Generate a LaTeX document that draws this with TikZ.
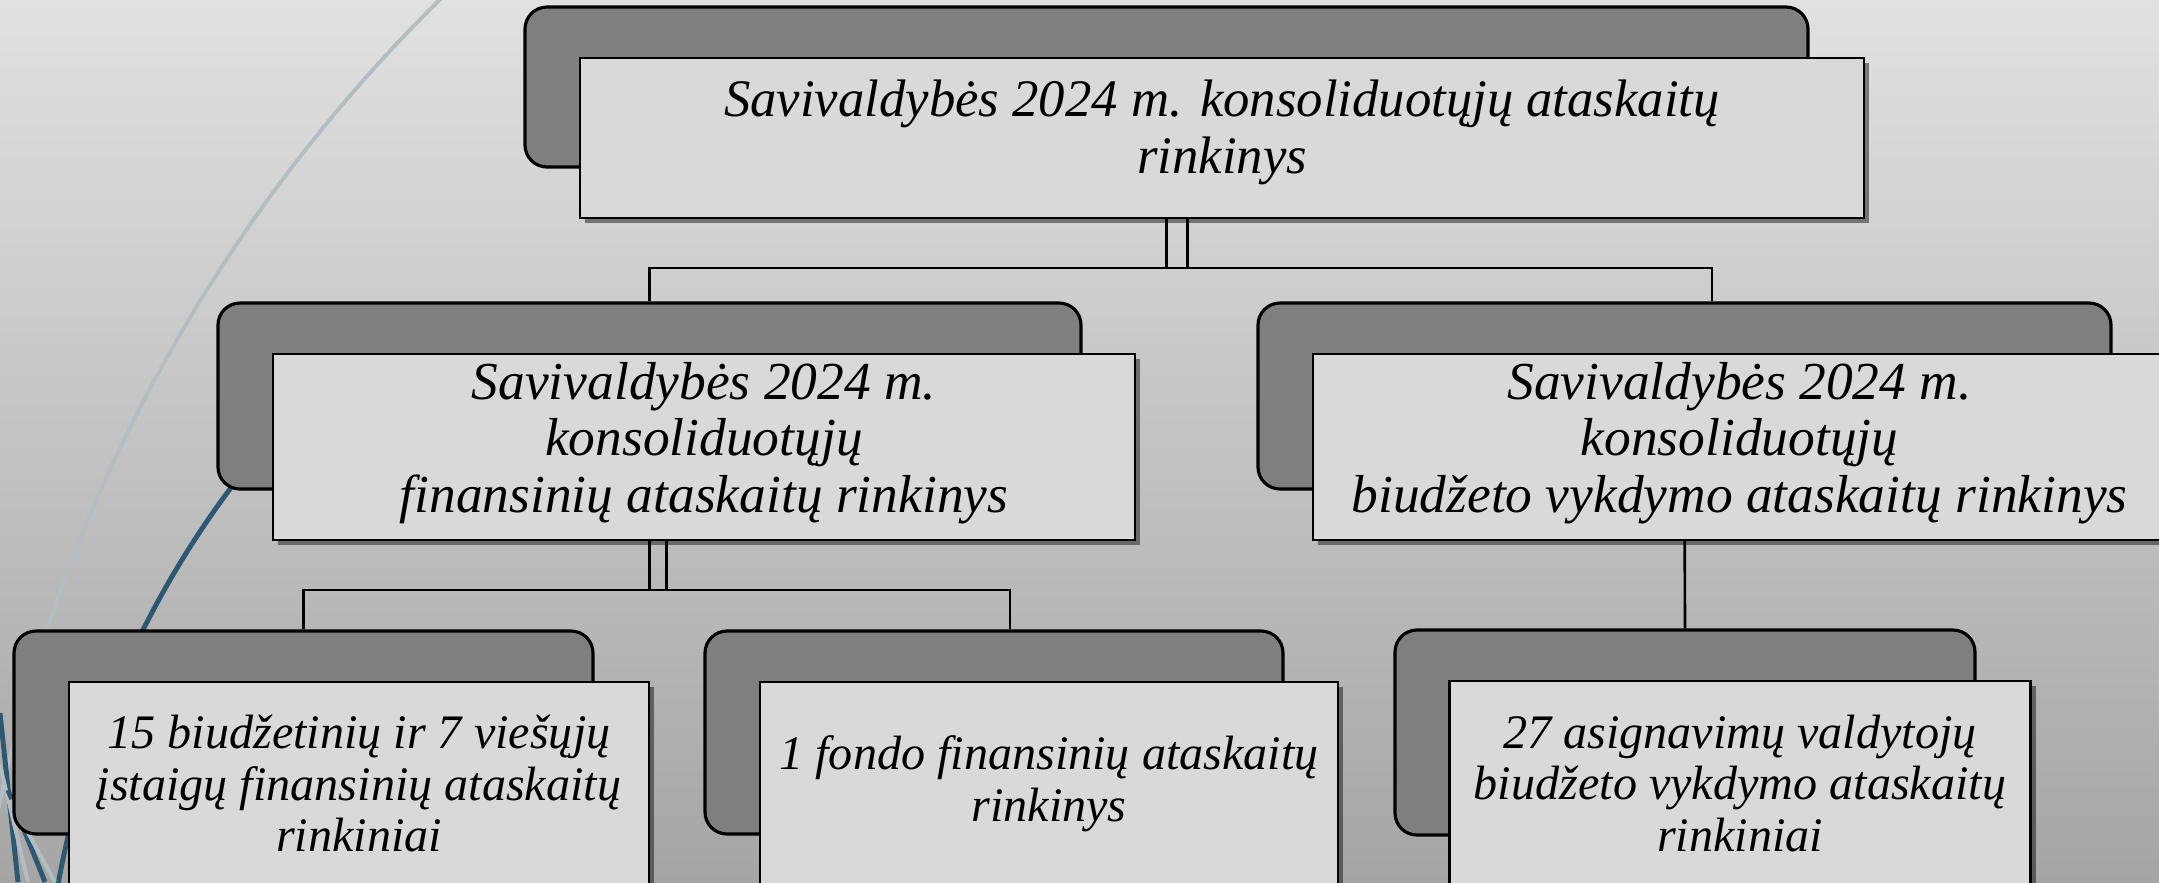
\documentclass[tikz,border=0pt]{standalone}
\usepackage{fontspec}
\setmainfont{Liberation Serif}
\usetikzlibrary{shadows}
\definecolor{bgtop}{HTML}{E1E1E1}
\definecolor{bgbot}{HTML}{A5A5A5}
\definecolor{backgray}{HTML}{7F7F7F}
\definecolor{frontgray}{HTML}{D9D9D9}
\definecolor{arcblue}{HTML}{2E5872}
\definecolor{arclight}{HTML}{B3BDC4}
\newcommand{\fsRoot}{\fontsize{15pt}{16.2pt}\selectfont\itshape}
\newcommand{\fsMid}{\fontsize{15.2pt}{16.1pt}\selectfont\itshape}
\newcommand{\fsLow}{\fontsize{13.7pt}{14.7pt}\selectfont\itshape}

\begin{document}
\begin{tikzpicture}[
  backbox/.style={draw=black, line width=0.9pt, fill=backgray, rounded corners=2.2mm, inner sep=0pt},
  frontbox/.style={draw=black, line width=0.8pt, fill=frontgray, inner sep=0pt,
    drop shadow={shadow xshift=0.5mm, shadow yshift=-0.5mm, opacity=0.45, fill=black}},
  boxtext/.style={align=center, inner sep=0pt},
  link/.style={black, line width=0.75pt},
  darkline/.style={arcblue, line width=1.4pt},
  paleline/.style={arclight, line width=1.1pt},
]
\useasboundingbox (0,0) rectangle (21.59,-8.82);
\clip (0,0) rectangle (21.59,-8.82);
% Background:
\shade[top color=bgtop, bottom color=bgbot] (0,0) rectangle (21.59,-8.82);
\draw[paleline] (15.55,-11.33) ++(130:15.9) arc[start angle=130, end angle=180, radius=15.9];
\draw[darkline] (9.84,-10.52) ++(136:9.41) arc[start angle=136, end angle=178, radius=9.41];
\draw[darkline] (0,-7.13) -- (0.18,-8.82);
\draw[paleline] (0,-7.65) -- (0.28,-8.82);
\draw[darkline] (0.08,-7.90) -- (0.45,-8.82);
\draw[paleline] (0.10,-8.00) -- (0.55,-8.82);
% Bars:
\coordinate (barA) at (0,-2.68);
\coordinate (barB) at (0,-5.90);
% Back boxes:
\node (rootb) [backbox, minimum width=12.83cm, minimum height=1.60cm] at (11.665,-0.87) {};
\node (lcb) [backbox, minimum width=8.63cm, minimum height=1.86cm] at (6.495,-3.96) {};
\node (rcb) [backbox, minimum width=8.53cm, minimum height=1.86cm] at (16.845,-3.96) {};
\node (ab) [backbox, minimum width=5.79cm, minimum height=2.03cm] at (3.035,-7.325) {};
\node (bb) [backbox, minimum width=5.78cm, minimum height=2.03cm] at (9.94,-7.325) {};
\node (cb) [backbox, minimum width=5.80cm, minimum height=2.05cm] at (16.85,-7.325) {};
% Connectors:
\draw[link] (rootb |- barA) rectangle ([xshift=2.1mm]rootb |- rootb.south);
\draw[link] (lcb.north) -- (lcb |- barA) -- ([xshift=2.75mm]rcb |- barA) -- ([xshift=2.75mm]rcb.north);
\draw[link] (lcb |- barB) rectangle ([xshift=1.7mm]lcb |- lcb.south);
\draw[link] (ab.north) -- (ab |- barB) -- ([xshift=1.6mm]bb |- barB) -- ([xshift=1.6mm]bb.north);
\draw[link] (rcb.south) -- (cb.north);
% Front boxes:
\node (rootf) [frontbox, minimum width=12.84cm, minimum height=1.60cm] at ([shift={(0.555,-0.51)}]rootb.center) {};
\node (lcf) [frontbox, minimum width=8.62cm, minimum height=1.86cm] at ([shift={(0.545,-0.51)}]lcb.center) {};
\node (rcf) [frontbox, minimum width=8.53cm, minimum height=1.86cm] at ([shift={(0.55,-0.51)}]rcb.center) {};
\node (af) [frontbox, minimum width=5.80cm, minimum height=2.03cm] at ([shift={(0.555,-0.51)}]ab.center) {};
\node (bf) [frontbox, minimum width=5.78cm, minimum height=2.03cm] at ([shift={(0.55,-0.51)}]bb.center) {};
\node (cf) [frontbox, minimum width=5.81cm, minimum height=2.05cm] at ([shift={(0.55,-0.51)}]cb.center) {};
% Texts:
\node (rootT) [boxtext, font=\fsRoot] at ([yshift=0.6mm]rootf.center)
  {Savivaldybės 2024 m. konsoliduotųjų ataskaitų\\rinkinys};
\node (lcT) [boxtext, font=\fsMid] at ([yshift=0.4mm]lcf.center)
  {Savivaldybės 2024 m.\\konsoliduotųjų\\finansinių ataskaitų rinkinys};
\node (rcT) [boxtext, font=\fsMid] at ([yshift=0.4mm]rcf.center)
  {Savivaldybės 2024 m.\\konsoliduotųjų\\biudžeto vykdymo ataskaitų rinkinys};
\node (aT) [boxtext, font=\fsLow] at (af.center)
  {15 biudžetinių ir 7 viešųjų\\įstaigų finansinių ataskaitų\\rinkiniai};
\node (bT) [boxtext, font=\fsLow] at (bf.center)
  {1 fondo finansinių ataskaitų\\rinkinys};
\node (cT) [boxtext, font=\fsLow] at (cf.center)
  {27 asignavimų valdytojų\\biudžeto vykdymo ataskaitų\\rinkiniai};
\end{tikzpicture}
\end{document}
